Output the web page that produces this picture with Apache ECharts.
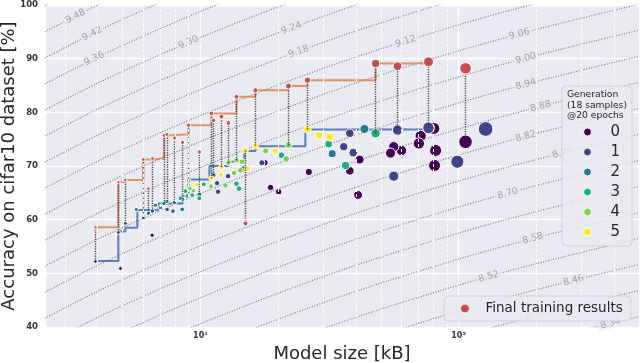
<!DOCTYPE html>
<html>
<head>
<meta charset="utf-8">
<script src="https://cdn.jsdelivr.net/npm/echarts@6/dist/echarts.min.js"></script>
<style>
  html, body { margin: 0; padding: 0; background: #fff; }
  #chart { width: 640px; height: 363px; }
</style>
</head>
<body>
<div id="chart"></div>
<script>
// candidate samples: model size [kB], accuracy after 20 epochs [%], generation
var sampleSize = [127.3, 106.4, 98.9, 80.7, 81.5, 80.2, 76.5, 71.3, 70.2, 60.1, 56.1, 54.5, 58.0, 56.1,
    47.7, 43.2, 41.4, 40.8, 39.1, 37.9, 37.9, 36.5, 35.9, 32.4, 31.4, 31.7, 28.8, 26.3, 25.99, 21.93,
    21.5, 20.6, 20.1, 18.7, 19.5, 17.9, 17.8, 17.3, 16.34, 15.2, 14.94, 14.7, 14.5, 14.3, 14.1, 13.79,
    13.8, 13.5, 12.84, 12.8, 12.5, 12.06, 12.0, 11.7, 11.6, 11.23, 11.03, 11.0, 10.3, 9.9, 9.91, 9.7,
    9.4, 9.1, 8.99, 8.75, 9.3, 8.9, 8.52, 8.36, 7.93, 8.5, 7.83, 7.42, 7.43, 7.22, 7.0, 6.7, 6.52, 6.5,
    6.29, 6.01, 5.64, 5.12, 4.90, 4.81, 3.92];
var sampleAcc = [76.9, 74.5, 70.8, 70.1, 72.9, 77.0, 77.1, 75.6, 74.2, 72.9, 73.6, 72.4, 76.7, 68.1,
    76.1, 76.9, 71.2, 64.6, 72.5, 76.1, 69.1, 70.1, 73.6, 72.3, 74.1, 75.4, 75.7, 68.9, 76.8, 73.9,
    71.3, 72.0, 65.2, 66.0, 72.8, 72.8, 70.6, 70.6, 73.8, 69.5, 72.9, 69.5, 70.8, 69.2, 65.8, 71.1,
    66.7, 68.7, 70.6, 68.1, 66.4, 69.8, 68.4, 65.2, 66.8, 68.3, 67.7, 66.2, 66.6, 64.0, 64.7, 66.5,
    65.4, 65.8, 67.2, 65.3, 64.6, 64.4, 63.8, 64.0, 63.2, 61.9, 61.6, 63.4, 61.9, 63.0, 62.2, 62.7, 61.6, 57.1,
    61.2, 60.3, 61.9, 59.3, 50.9, 57.6, 52.2];
var sampleGen = [1, 0, 1, 0, 0, 0, 1, 0, 0, 0, 0, 0, 1, 1,
    3, 2, 0, 0, 1, 1, 0, 3, 1, 2, 3, 5, 5, 0, 5, 4,
    4, 3, 0, 0, 5, 4, 0, 1, 5, 5, 5, 1, 4, 4, 3, 4,
    3, 4, 4, 1, 4, 5, 5, 1, 1, 2, 5, 4, 3, 3, 2, 5,
    4, 4, 4, 3, 3, 3, 2, 3, 2, 2, 1, 3, 1, 2, 2, 2, 1, 0,
    2, 1, 2, 1, 0, 1, 0];

// final training results: size [kB], final accuracy, accuracy of the sample it came from
var finalSize = [3.92, 4.81, 5.12, 6.01, 6.29, 6.52, 7.22, 7.42, 7.93, 8.52, 8.99, 9.91, 11.03,
    11.23, 12.06, 12.84, 13.79, 14.94, 16.34, 21.93, 25.99, 47.7, 58.0, 76.5, 106.4];
var finalAcc = [58.6, 67.0, 67.4, 71.2, 65.8, 71.4, 75.7, 75.9, 75.2, 74.4, 77.6, 72.6, 79.8,
    78.5, 79.2, 78.0, 82.9, 59.3, 84.1, 84.9, 86.0, 89.1, 88.6, 89.4, 88.2];
var finalFromAcc = [52.2, 57.6, 59.3, 60.3, 61.2, 61.6, 63.0, 63.4, 63.2, 63.8, 67.2, 64.7, 67.7,
    68.3, 69.8, 70.6, 71.1, 72.9, 73.8, 73.9, 76.8, 76.1, 76.7, 77.1, 74.5];

// pareto front of the samples (blue steps)
var frontSize = [3.92, 4.81, 5.12, 5.7, 6.88, 8.52, 8.99, 10.84, 12.84, 14.81, 16.34, 25.5, 76.5];
var frontAcc = [52.3, 57.8, 58.5, 61.8, 63.0, 64.4, 67.5, 70.0, 70.8, 72.8, 73.7, 76.8, 77.1];

// iso-score contours: the 9.00 curve, other levels are shifted copies
var contourSize = [2.5, 4, 6, 10, 20, 40, 100, 200, 500];
var contourBase = [56.2, 61.2, 65.1, 69.7, 75.4, 80.6, 86.6, 90.6, 95.3];
var contourStep = 4.85; // accuracy between two levels (0.06 apart)
var contourLevels = [8.34, 8.40, 8.46, 8.52, 8.58, 8.64, 8.70, 8.76, 8.82, 8.88, 8.94, 9.00,
    9.06, 9.12, 9.18, 9.24, 9.30, 9.36, 9.42, 9.48, 9.54];
var labelLevels = [9.48, 9.42, 9.36, 9.30, 9.24, 9.18, 9.12, 9.06, 9.00, 8.94, 8.88, 8.82,
    8.76, 8.70, 8.64, 8.58, 8.52, 8.46, 8.40, 8.34];
var labelSize = [3.28, 3.81, 3.88, 8.99, 22.5, 24.0, 62.4, 172, 182, 182, 208, 182,
    253, 155, 292, 194, 131, 279, 200, 388];

var minorTicks = [3, 4, 5, 6, 7, 8, 9, 20, 30, 40, 50, 60, 70, 80, 90, 200, 300, 400];
var genNames = ['0', '1', '2', '3', '4', '5'];
var genColors = ['#440154', '#414487', '#2a788e', '#22a884', '#7ad151', '#fde725'];

function contourAt(s, lv) {
    var k = Math.round((lv - 9) / 0.06);
    var j = 0;
    while (j < contourSize.length - 2 && s > contourSize[j + 1]) j++;
    var a = Math.log10(contourSize[j]), b = Math.log10(contourSize[j + 1]);
    var t = (Math.log10(s) - a) / (b - a);
    return contourBase[j] + t * (contourBase[j + 1] - contourBase[j]) + k * contourStep;
}

// pareto front of final results
var order = finalSize.map(function (s, i) { return i; }).sort(function (a, b) { return finalSize[a] - finalSize[b]; });
var finalFront = [];
var best = -1;
order.forEach(function (i) {
    if (finalAcc[i] > best) { best = finalAcc[i]; finalFront.push([finalSize[i], finalAcc[i]]); }
});

var series = [];

// minor grid lines
series.push({
    type: 'line', z: 0.5, silent: true, showSymbol: false,
    data: [[10, 40]], lineStyle: { width: 0 },
    markLine: {
        silent: true, symbol: ['none', 'none'], label: { show: false },
        lineStyle: { color: '#ffffff', width: 1, type: [3, 2] },
        data: minorTicks.map(function (v) { return { xAxis: v }; })
    }
});

contourLevels.forEach(function (lv) {
    var k = Math.round((lv - 9) / 0.06);
    series.push({
        type: 'line', z: 1, silent: true, showSymbol: false, smooth: 0.3,
        data: contourSize.map(function (s, i) { return [s, contourBase[i] + k * contourStep]; }),
        lineStyle: { color: '#7a7a7a', width: 1.2, type: [1, 1.6] }
    });
});

function labelData(rot) {
    return labelLevels.map(function (lv, i) {
        return {
            value: [labelSize[i], contourAt(labelSize[i], lv)],
            label: { formatter: lv.toFixed(2), rotate: rot ? rot[i] : 15 }
        };
    });
}

series.push({
    id: 'clabels', type: 'scatter', z: 1.5, silent: true, symbolSize: 0,
    data: labelData(null),
    label: {
        show: true, position: 'inside', fontSize: 9.5, color: '#8e8e8e',
        backgroundColor: '#eaeaf2', padding: [0, 2]
    }
});

series.push({
    type: 'line', z: 2, silent: true, showSymbol: false, step: 'end',
    data: frontSize.map(function (s, i) { return [s, frontAcc[i]]; }),
    lineStyle: { color: '#4c72b0', width: 2, opacity: 0.9 }
});
series.push({
    type: 'line', z: 2, silent: true, showSymbol: false, step: 'end',
    data: finalFront,
    lineStyle: { color: '#dd8452', width: 2, opacity: 0.85 }
});

genNames.forEach(function (name, g) {
    var d = [];
    sampleSize.forEach(function (s, i) { if (sampleGen[i] === g) d.push([s, sampleAcc[i]]); });
    series.push({
        name: name, type: 'scatter', z: 3, data: d,
        symbolSize: function (v) { return Math.sqrt(v[0]) * 1.2 + 1.2; },
        itemStyle: { color: genColors[g], borderColor: '#ffffff', borderWidth: 1, opacity: 1 }
    });
});

series.push({
    type: 'lines', coordinateSystem: 'cartesian2d', z: 4, silent: true,
    data: finalSize.map(function (s, i) { return { coords: [[s, finalFromAcc[i]], [s, finalAcc[i]]] }; }),
    lineStyle: { color: '#333333', width: 1.4, type: [1.2, 1.2], opacity: 0.9 }
});

series.push({
    name: 'Final training results', type: 'scatter', z: 5,
    data: finalSize.map(function (s, i) { return [s, finalAcc[i]]; }),
    symbolSize: function (v) { return Math.sqrt(v[0]) * 1.0 + 1.2; },
    itemStyle: { color: '#c44e52', borderColor: '#ffffff', borderWidth: 1, opacity: 1 }
});

var sup = ['\u2070', '\u00b9', '\u00b2'];

var option = {
    animation: false,
    textStyle: { fontFamily: 'DejaVu Sans' },
    grid: {
        left: 45, right: 1, top: 5, bottom: 36, outerBoundsMode: 'none',
        show: true, backgroundColor: '#eaeaf2', borderWidth: 0
    },
    xAxis: {
        type: 'log', logBase: 10, min: 2.5, max: 500,
        name: 'Model size [kB]', nameLocation: 'middle', nameGap: 15,
        nameTextStyle: { fontSize: 18, color: '#262626' },
        axisLine: { show: false }, axisTick: { show: false },
        axisLabel: {
            fontSize: 8, fontWeight: 'bold', color: '#333333', margin: 5,
            showMinLabel: false, showMaxLabel: false,
            formatter: function (v) {
                var e = Math.log10(v);
                return Math.abs(e - Math.round(e)) < 1e-6 ? '10' + sup[Math.round(e)] : '';
            }
        },
        splitLine: { show: true, lineStyle: { color: '#ffffff', width: 1.3 } }
    },
    yAxis: {
        type: 'value', min: 40, max: 100, interval: 10,
        name: 'Accuracy on cifar10 dataset [%]', nameLocation: 'middle', nameGap: 27,
        nameMoveOverlap: false,
        nameTextStyle: { fontSize: 18, color: '#262626' },
        axisLine: { show: false }, axisTick: { show: false },
        axisLabel: { fontSize: 8.5, fontWeight: 'bold', color: '#333333', margin: 7 },
        splitLine: { show: true, lineStyle: { color: '#ffffff', width: 1.3 } }
    },
    legend: [{
        data: genNames, orient: 'vertical', left: 562, top: 86, z: 20,
        selectedMode: false, padding: [37, 12, 5, 21], itemGap: 2,
        itemWidth: 8, itemHeight: 8, icon: 'circle',
        backgroundColor: 'rgba(234,234,242,0.85)', borderColor: '#d2d2da', borderWidth: 1, borderRadius: 4,
        itemStyle: { borderColor: '#ffffff', borderWidth: 1 },
        textStyle: { fontSize: 15, color: '#262626', lineHeight: 18, padding: [0, 0, 0, 14] }
    }, {
        data: ['Final training results'], orient: 'vertical', left: 444, top: 296, z: 20,
        selectedMode: false, padding: [4, 8, 4, 16],
        itemWidth: 9, itemHeight: 9, icon: 'circle',
        backgroundColor: 'rgba(234,234,242,0.85)', borderColor: '#d2d2da', borderWidth: 1, borderRadius: 4,
        itemStyle: { borderColor: '#ffffff', borderWidth: 1 },
        textStyle: { fontSize: 13.5, color: '#262626', lineHeight: 17, padding: [0, 0, 0, 11] }
    }],
    graphic: [{
        type: 'text', left: 567, top: 90, z: 30, silent: true,
        style: {
            text: 'Generation\n(18 samples)\n@20 epochs', fontSize: 9.2, lineHeight: 10.2,
            fill: '#262626', fontFamily: 'DejaVu Sans'
        }
    }],
    series: series
};

var myChart = echarts.init(document.getElementById('chart'));
myChart.setOption(option);

// rotate the contour labels along their lines
var rot = labelLevels.map(function (lv, i) {
    var s = labelSize[i];
    var p1 = myChart.convertToPixel({ gridIndex: 0 }, [s / 1.15, contourAt(s / 1.15, lv)]);
    var p2 = myChart.convertToPixel({ gridIndex: 0 }, [s * 1.15, contourAt(s * 1.15, lv)]);
    return Math.atan2(p1[1] - p2[1], p2[0] - p1[0]) * 180 / Math.PI;
});
myChart.setOption({ series: [{ id: 'clabels', data: labelData(rot) }] });
</script>
</body>
</html>
